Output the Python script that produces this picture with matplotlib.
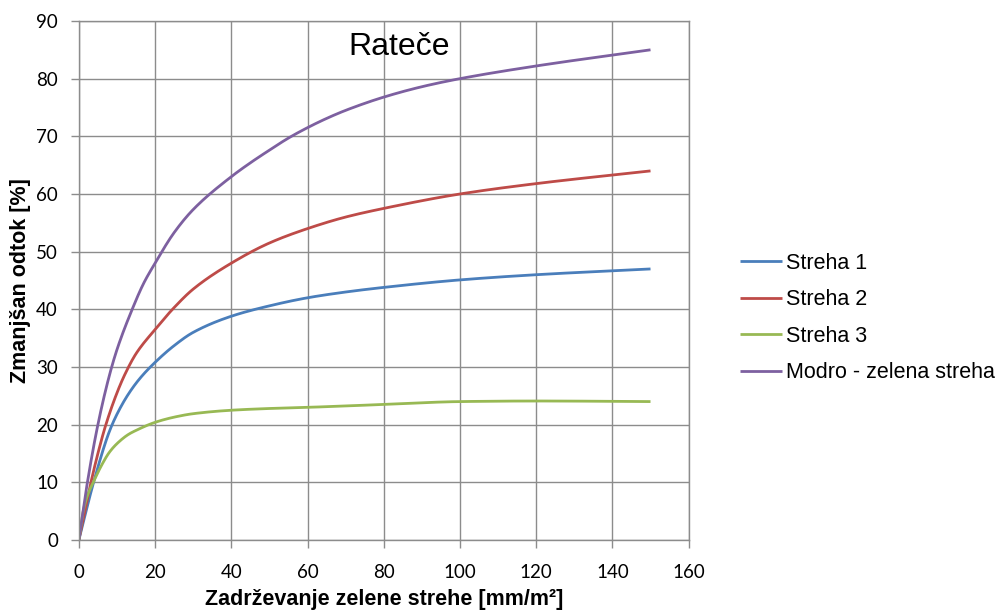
import numpy as np
import matplotlib
matplotlib.use('Agg')
import matplotlib.pyplot as plt

# odčitane vrednosti z grafa (x = zadrževanje, y = zmanjšan odtok)
x1 = [0, 4, 8, 10, 13, 16, 20, 25, 30, 40, 50, 60, 70, 80, 100, 120, 150]
streha1 = [0, 10.3, 18.8, 21.8, 25.3, 28.0, 30.8, 33.7, 36, 38.8, 40.6, 42, 43, 43.8, 45.1, 46, 47]
x2 = [0, 3, 5, 7, 10, 12, 15, 20, 25, 30, 40, 50, 60, 70, 80, 100, 120, 150]
streha2 = [0, 9.5, 15, 19.8, 25.5, 28.6, 32.3, 36.5, 40.3, 43.5, 48, 51.5, 54, 56, 57.5, 60, 61.8, 64]
x3 = [0, 1, 2, 4, 6, 8, 10, 13, 15, 20, 25, 30, 40, 50, 60, 80, 100, 120, 150]
streha3 = [0, 4.5, 7.2, 10.3, 13, 15.2, 16.7, 18.3, 19, 20.4, 21.3, 21.9, 22.5, 22.8, 23, 23.5, 24, 24.1, 24]
x4 = [0, 2, 5, 8, 10, 14, 17, 20, 25, 30, 40, 45, 50, 55, 60, 65, 70, 80, 90, 100, 120, 150]
modro = [0, 9, 20, 28.5, 33, 40, 44.5, 48, 53.3, 57.3, 63, 65.4, 67.6, 69.7, 71.5, 73.1, 74.5, 76.8, 78.6, 80, 82.2, 85]

names = ['Streha 1', 'Streha 2', 'Streha 3', 'Modro - zelena streha']
colors = ['#4A7EBB', '#BE4B48', '#98B954', '#7D60A0']


def gladka(x, y, n=20):
    # monotona kubična krivulja skozi točke (kot "smoothed line" v Excelu)
    x = np.asarray(x, float)
    y = np.asarray(y, float)
    h = np.diff(x)
    d = np.diff(y) / h
    m = np.zeros_like(y)
    m[0], m[-1] = d[0], d[-1]
    for i in range(1, len(y) - 1):
        if d[i - 1] * d[i] > 0:
            w1 = 2 * h[i] + h[i - 1]
            w2 = h[i] + 2 * h[i - 1]
            m[i] = (w1 + w2) / (w1 / d[i - 1] + w2 / d[i])
    xs, ys = [], []
    for i in range(len(h)):
        t = np.linspace(0, 1, n, endpoint=False)
        h00 = 2 * t**3 - 3 * t**2 + 1
        h10 = t**3 - 2 * t**2 + t
        h01 = -2 * t**3 + 3 * t**2
        h11 = t**3 - t**2
        xs.append(x[i] + t * h[i])
        ys.append(h00 * y[i] + h10 * h[i] * m[i] + h01 * y[i + 1] + h11 * h[i] * m[i + 1])
    xs.append([x[-1]])
    ys.append([y[-1]])
    return np.concatenate(xs), np.concatenate(ys)


fig = plt.figure(figsize=(9.98, 6.10), dpi=100)
ax = fig.add_axes([0.079, 0.1148, 0.611, 0.8508])

for xx, yy, name, c in zip([x1, x2, x3, x4], [streha1, streha2, streha3, modro], names, colors):
    sx, sy = gladka(xx, yy)
    ax.plot(sx, sy, color=c, lw=2.0, label=name, solid_capstyle='butt')

ax.set_xlim(0, 160)
ax.set_ylim(0, 90)
ax.set_xticks(np.arange(0, 161, 20))
ax.set_yticks(np.arange(0, 91, 10))
ax.grid(True, color='#8c8c8c', lw=1.0)
ax.set_axisbelow(True)
for s in ax.spines.values():
    s.set_color('#8c8c8c')
    s.set_linewidth(1.0)
ax.tick_params(colors='#8c8c8c', length=6, width=1, labelcolor='black', labelsize=13.5)
ax.tick_params(axis='x', pad=11)
ax.tick_params(axis='y', pad=9)
for lab in ax.get_xticklabels() + ax.get_yticklabels():
    lab.set_family('Lato')

ax.set_xlabel('Zadrževanje zelene strehe [mm/m²]', family='Liberation Sans',
              fontweight='bold', fontsize=15.5, labelpad=6)
ax.set_ylabel('Zmanjšan odtok [%]', family='Liberation Sans',
              fontweight='bold', fontsize=15.5, labelpad=4)

ax.text(0.525, 0.95, 'Rateče', transform=ax.transAxes, family='Liberation Sans',
        fontsize=23, ha='center', va='center')

leg = ax.legend(loc='center left', bbox_to_anchor=(1.07, 0.428), frameon=False,
                prop={'family': 'Liberation Sans', 'size': 15.5},
                handlelength=1.95, handletextpad=0.2, labelspacing=0.72,
                borderaxespad=0)

fig.savefig('out.png', dpi=100)
